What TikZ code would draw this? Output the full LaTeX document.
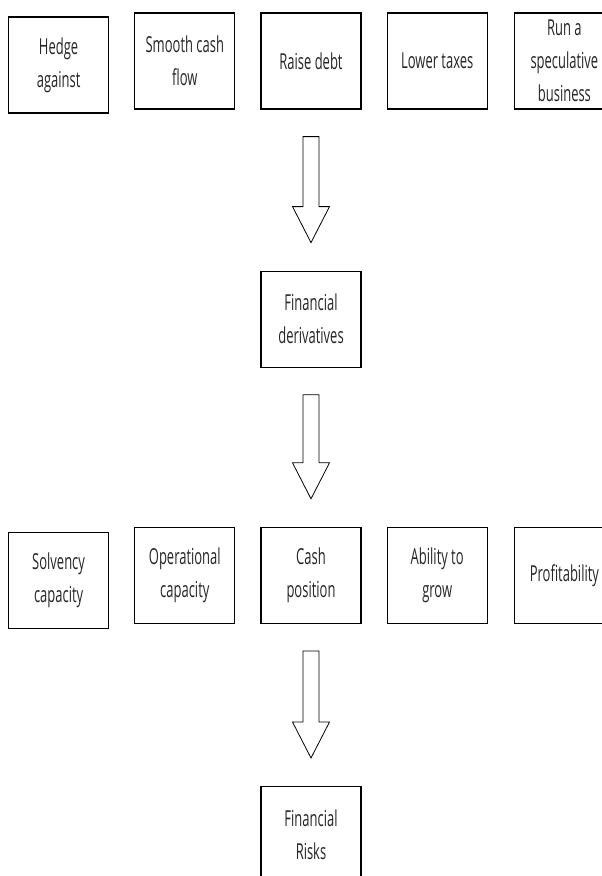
\documentclass[tikz,border=0pt]{standalone}
\usepackage{fontspec}
\setmainfont{Open Sans}[FakeStretch=0.59]
\usetikzlibrary{calc}
\usetikzlibrary{positioning}

\begin{document}
\begin{tikzpicture}[x=1pt,y=1pt,node distance=25pt,semithick]
	\tikzstyle{box}=[draw, line width=1.2pt, minimum width=100pt, minimum height=96pt, inner sep=0pt, align=center, text=black!85, font=\fontsize{22}{33}\selectfont]
	\tikzstyle{fatarrow}=[draw, line width=0.8pt, to path={let \p1=(\tikztostart.south), \p2=(\tikztotarget.north) in (\x1-8pt,\y1-27pt) -- (\x1-8pt,\y2+64pt) -- (\x1-18.5pt,\y2+64pt) -- (\x1,\y2+28pt) -- (\x1+18.5pt,\y2+64pt) -- (\x1+8pt,\y2+64pt) -- (\x1+8pt,\y1-27pt) -- cycle}]
	\useasboundingbox (0,0) rectangle (602,-876);

	% reasons
	\node[box] (raise) at (311,-61) {Raise debt};
	\node[box] (smooth) [left=of raise] {Smooth cash\\flow};
	\node[box] (hedge) [left=of smooth, yshift=-4pt] {Hedge\\against};
	\node[box] (lower) [right=of raise] {Lower taxes};
	\node[box] (run) [right=26pt of lower] {Run a\\speculative\\business};

	\node[box] (deriv) [below=161pt of raise] {Financial\\derivatives};

	% effects
	\node[box] (cash) [below=159pt of deriv] {Cash\\position};
	\node[box] (oper) [left=of cash] {Operational\\capacity};
	\node[box] (solv) [left=of oper, yshift=-5pt] {Solvency\\capacity};
	\node[box] (grow) [right=of cash] {Ability to\\grow};
	\node[box] (profit) [right=26pt of grow] {Profitability};

	\node[box] (risks) [below=162pt of cash] {Financial\\Risks};

	\path
		(raise) edge [fatarrow] (deriv)
		(deriv) edge [fatarrow] (cash)
		(cash) edge [fatarrow] (risks);
\end{tikzpicture}
\end{document}
